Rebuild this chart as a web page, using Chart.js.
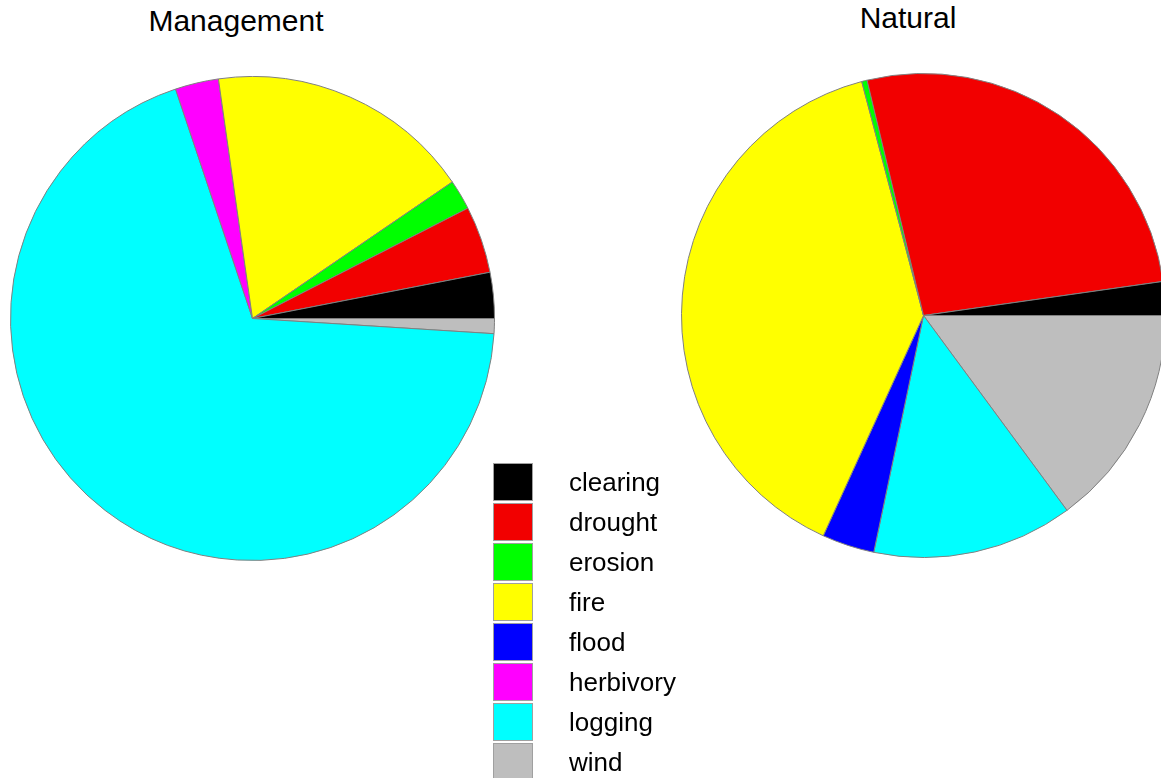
<!DOCTYPE html>
<html>
<head>
<meta charset="utf-8">
<script src="https://cdn.jsdelivr.net/npm/chart.js@4/dist/chart.umd.min.js"></script>
<style>
  html, body { margin: 0; padding: 0; background: #fff; overflow: hidden; }
  body { width: 1161px; height: 778px; position: relative; font-family: "Liberation Sans", Arial, sans-serif; }
  .title { position: absolute; font-size: 30px; color: #000; transform: translateX(-50%); white-space: nowrap; }
  canvas { position: absolute; }
  .key { position: absolute; left: 493px; width: 38px; height: 36px; border: 1px solid #a0a0a0; }
  .lab { position: absolute; left: 569px; font-size: 26px; line-height: 38px; color: #000; }
</style>
</head>
<body>
<div class="title" style="left:236px; top:4px;">Management</div>
<div class="title" style="left:908px; top:1px;">Natural</div>
<canvas id="mgmtChart" width="485" height="485" style="left:10px; top:76px;"></canvas>
<canvas id="natChart" width="485" height="485" style="left:681px; top:73px;"></canvas>
<div id="legend"></div>
<script>
  const categories = ["clearing", "drought", "erosion", "fire", "flood", "herbivory", "logging", "wind"];
  const colors = ["#000000", "#F20000", "#00FF00", "#FFFF00", "#0000FF", "#FF00FF", "#00FFFF", "#BEBEBE"];

  // shares in percent
  const management = [3.06, 4.47, 2.0, 17.7, 0, 2.9, 68.8, 1.0];
  const natural = [2.25, 26.5, 0.36, 39.1, 3.5, 0, 13.4, 14.9];

  // the original runs counter-clockwise from 3 o'clock; Chart.js runs clockwise,
  // so feed the slices in reverse order starting at 90 degrees
  function makePie(id, values) {
    const ctx = document.getElementById(id).getContext("2d");
    return new Chart(ctx, {
      type: "pie",
      data: {
        labels: categories.slice().reverse(),
        datasets: [{
          data: values.slice().reverse(),
          backgroundColor: colors.slice().reverse(),
          borderColor: "#808080",
          borderWidth: 1
        }]
      },
      options: {
        responsive: false,
        animation: false,
        rotation: 90,
        layout: { padding: 0 },
        plugins: {
          legend: { display: false },
          tooltip: { enabled: false }
        }
      }
    });
  }

  makePie("mgmtChart", management);
  makePie("natChart", natural);

  // legend
  const legend = document.getElementById("legend");
  categories.forEach(function(name, i) {
    const top = 463 + i * 40;
    const box = document.createElement("div");
    box.className = "key";
    box.style.top = top + "px";
    box.style.background = colors[i];
    legend.appendChild(box);
    const lab = document.createElement("div");
    lab.className = "lab";
    lab.style.top = top + "px";
    lab.textContent = name;
    legend.appendChild(lab);
  });
</script>
</body>
</html>
